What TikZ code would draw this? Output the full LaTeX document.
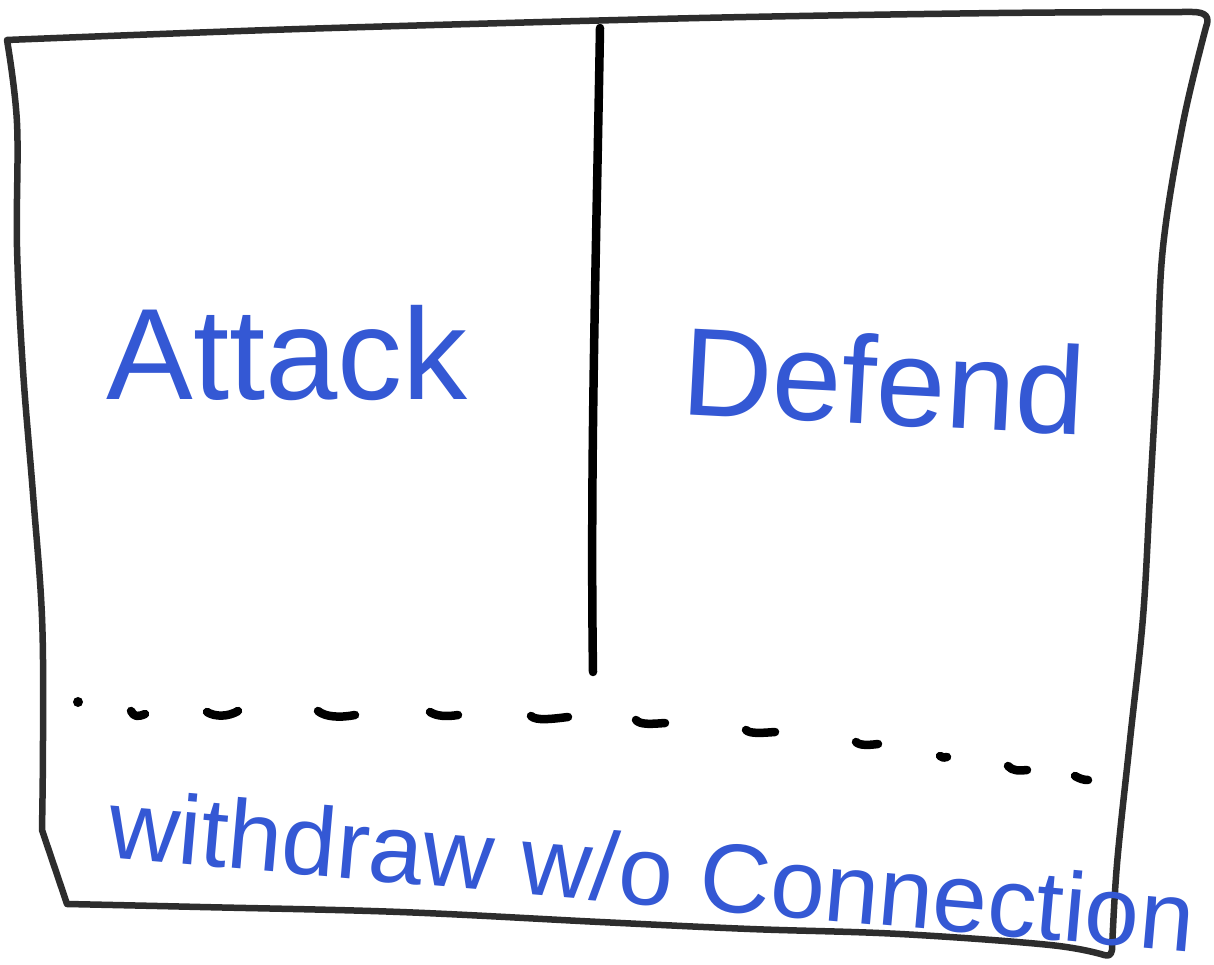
\documentclass[tikz,border=0pt]{standalone}
\usepackage{fontspec}
\setmainfont{Liberation Sans}
\definecolor{ink}{RGB}{52,88,212}
\definecolor{frame}{RGB}{45,45,45}
\tikzset{
  handtext/.style={text=ink, inner sep=0pt, anchor=center},
  tick/.style={line width=8.5pt, line cap=round, line join=round, black},
  framepath/.style={line width=6.5pt, frame, line join=round},
}
\begin{document}
\begin{tikzpicture}[x=1pt,y=1pt]
\useasboundingbox[fill=white] (0,0) rectangle (1214,965);
% frame
\draw[framepath]
  plot[smooth, tension=0.5] coordinates {(7,925) (300,936) (700,947) (1000,952) (1192,953)}
  .. controls (1206,953) and (1210,948) .. (1206,938)
  -- plot[smooth, tension=0.6] coordinates {(1206,938) (1183,842) (1163,718) (1157,595) (1150,471) (1143,348) (1130,225) (1117,101) (1112,15)}
  .. controls (1111,9) and (1108,9) .. (1104,10)
  -- plot[smooth, tension=0.6] coordinates {(1104,10) (1050,20) (900,31) (750,36) (600,43) (400,53) (200,58) (67,61)}
  -- (42,135)
  -- plot[smooth, tension=0.6] coordinates {(42,135) (43,225) (42,348) (33,471) (23,595) (17,718) (17,842) (7,925)}
  -- cycle;
% vertical divider
\coordinate (vtop) at (600,937);
\coordinate (vbot) at (593,293);
\draw[line width=8.5pt, line cap=round, black] (vtop) .. controls (596,700) and (590,500) .. (vbot);
% dashed boundary
\fill (78,263) circle (5);
\draw[tick] (131,254) .. controls (134,248) and (138,248) .. (145,251);
\draw[tick] (207,253) .. controls (215,248) and (228,248) .. (238,254);
\draw[tick] (318,254) .. controls (325,248) and (340,247) .. (355,250);
\draw[tick] (430,253) .. controls (436,249) and (446,248) .. (458,250);
\draw[tick] (531,249) .. controls (536,244) and (552,246) .. (568,248);
\draw[tick] (636,245) .. controls (640,240) and (652,241) .. (665,242);
\draw[tick] (746,235) .. controls (750,231) and (762,232) .. (775,233);
\draw[tick] (856,223) .. controls (860,219) and (870,220) .. (878,221);
\draw[tick] (940,209) .. controls (942,207) and (945,207) .. (947,208);
\draw[tick] (1008,199) .. controls (1012,194) and (1020,194) .. (1027,195);
\draw[tick] (1075,189) .. controls (1080,186) and (1084,185) .. (1088,185);
% texts
\node[handtext, font=\fontsize{130}{130}\selectfont] (attack) at (287,612) {Attack};
\node[handtext, font=\fontsize{125}{125}\selectfont, rotate=-3] (defend) at (884,585) {Defend};
\node[handtext, font=\fontsize{98}{98}\selectfont, rotate=-5] (withdraw) at (652,95) {withdraw w/o Connection};
\end{tikzpicture}
\end{document}
